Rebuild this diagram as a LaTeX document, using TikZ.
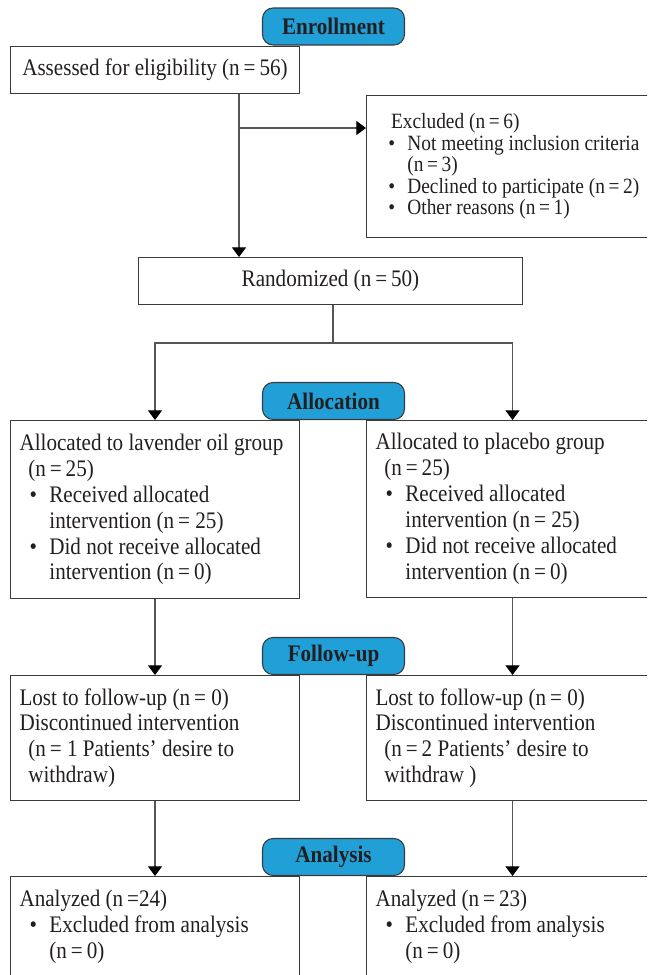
\documentclass[tikz,border=0pt]{standalone}
\usepackage{fontspec}
\setmainfont{Liberation Serif}[FakeStretch=0.89]
\usepackage{tikz}
\usetikzlibrary{arrows.meta}
\definecolor{flowblue}{RGB}{33,159,215}
\definecolor{boxline}{RGB}{58,58,58}
\definecolor{linkgray}{RGB}{85,85,85}
\definecolor{inkcol}{RGB}{35,31,32}
\newcommand{\bul}[2][17pt]{\par\noindent\hangindent=#1\hangafter=1\makebox[#1][r]{\textbullet\hspace{7pt}}#2\par}

\begin{document}
\begin{tikzpicture}
      [x=0.02cm,y=-0.02cm,
       box/.style={draw=boxline,line width=0.6pt,anchor=north west,align=flush left,
         inner xsep=0.18cm,inner ysep=0pt,text=inkcol,
         font=\fontsize{13.5}{14.74}\selectfont},
       lab/.style={draw=boxline,line width=0.6pt,fill=flowblue,rounded corners=6pt,
         minimum width=2.84cm,minimum height=0.74cm,inner sep=0pt,text=inkcol,
         font=\fontsize{13.5}{14.74}\selectfont\bfseries},
       link/.style={draw=linkgray,line width=0.6pt},
       arr/.style={link,-{Triangle[width=8pt,length=5.5pt,color=black]}}]
      \useasboundingbox (0,0) rectangle (647,975);
      \clip (0,0) rectangle (647,975);
      % enrollment
      \node[box,align=center,minimum width=5.78cm,minimum height=0.94cm] (assess) at (10,46)
        {Assessed for eligibility (n\,=\,56)};
      \node[box,text width=5.78cm,inner xsep=0.42cm,minimum height=2.84cm,
        font=\fontsize{12.4}{12.2}\selectfont] (excl) at (366,95)
        {\hspace*{2pt}Excluded (n\,=\,6)
         \bul[11.3pt]{Not meeting inclusion criteria\newline(n\,=\,3)}
         \bul[11.3pt]{Declined to participate (n\,=\,2)}
         \bul[11.3pt]{Other reasons (n\,=\,1)}};
      \node[box,align=center,minimum width=7.68cm,minimum height=0.94cm] (rand) at (138,257)
        {Randomized (n\,=\,50)};
      % allocation
      \node[box,text width=5.42cm,minimum height=3.56cm] (allocL) at (10,420)
        {Allocated to lavender oil group\\\hspace*{5pt}(n\,=\,25)
         \bul{Received allocated\newline intervention (n\,= 25)}
         \bul{Did not receive allocated\newline intervention (n\,=\,0)}};
      \node[box,text width=5.48cm,minimum height=3.54cm] (allocR) at (366,420)
        {Allocated to placebo group\\\hspace*{5pt}(n\,=\,25)
         \bul{Received allocated\newline intervention (n\,= 25)}
         \bul{Did not receive allocated\newline intervention (n\,=\,0)}};
      % follow-up
      \node[box,text width=5.42cm,minimum height=2.5cm] (followL) at (10,675)
        {Lost to follow-up (n\,= 0)\\Discontinued intervention\\
         \hspace*{5pt}(n\,= 1 Patients' desire to\\\hspace*{5pt}withdraw)};
      \node[box,text width=5.48cm,minimum height=2.5cm] (followR) at (366,675)
        {Lost to follow-up (n\,= 0)\\Discontinued intervention\\
         \hspace*{5pt}(n\,=\,2 Patients' desire to\\\hspace*{5pt}withdraw )};
      % analysis
      \node[box,text width=5.42cm,minimum height=2.0cm] (anaL) at (10,876)
        {Analyzed (n\,=24)
         \bul{Excluded from analysis\newline(n\,=\,0)}};
      \node[box,text width=5.48cm,minimum height=2.0cm] (anaR) at (366,876)
        {Analyzed (n\,=\,23)
         \bul{Excluded from analysis\newline(n\,=\,0)}};
      % connectors
      \coordinate (split) at (239,128);
      \coordinate (fork) at (333,343);
      \draw[arr] (split |- assess.south) -- (split |- rand.north);
      \draw[arr] (split) -- (split -| excl.west);
      \draw[link] (fork |- rand.south) -- (fork);
      \draw[arr] (fork) -| (allocL.north);
      \draw[arr] (fork) -| (allocR.north);
      \draw[arr] (allocL.south) -- (followL.north);
      \draw[arr] (allocR.south) -- (followR.north);
      \draw[arr] (followL.south) -- (anaL.north);
      \draw[arr] (followR.south) -- (anaR.north);
      % stage labels
      \node[lab] (enrol) at (333.5,26.5) {Enrollment};
      \node[lab] (alloc) at (333.5,401) {Allocation};
      \node[lab] (follow) at (333.5,656) {Follow-up};
      \node[lab] (analys) at (333.5,857) {Analysis};
    \end{tikzpicture}
\end{document}
